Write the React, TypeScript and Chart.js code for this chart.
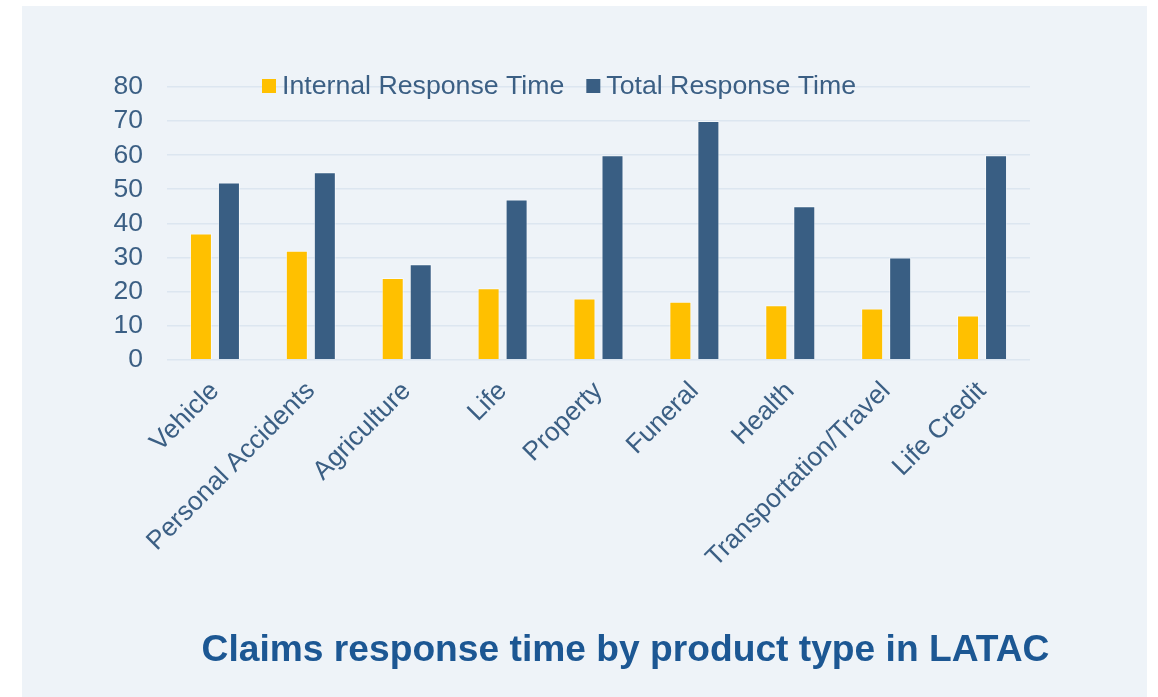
import { useEffect, useRef } from "react";
import { Chart, registerables } from "chart.js";

Chart.register(...registerables);

// Product categories and response times (days)
const categories = [
  "Vehicle",
  "Personal Accidents",
  "Agriculture",
  "Life",
  "Property",
  "Funeral",
  "Health",
  "Transportation/Travel",
  "Life Credit",
];
const internalResponse = [37, 32, 24, 21, 18, 17, 16, 15, 13];
const totalResponse = [52, 55, 28, 47, 60, 70, 45, 30, 60];
const seriesLabels = ["Internal Response Time", "Total Response Time"];
const yTickValues = [0, 10, 20, 30, 40, 50, 60, 70, 80];
const chartTitle = "Claims response time by product type in LATAC";

const FONT = "'Liberation Sans', Arial, Helvetica, sans-serif";
const TEXT_COLOR = "#3B5F84";
const TITLE_COLOR = "#1C5793";
const YELLOW = "#FFC000";
const BLUE = "#395E83";
const GRID = "#DCE6F0";
const PANEL = "#EEF3F8";

// Legend drawn on top of the plot, on the same row as the top gridline
const inlineLegend = {
  id: "inlineLegend",
  afterDraw(chart: any) {
    const { ctx } = chart;
    const x0 = 240;
    const y = 80;
    ctx.save();
    ctx.font = `26.7px ${FONT}`;
    ctx.textBaseline = "middle";
    ctx.textAlign = "left";
    let x = x0;
    chart.data.datasets.forEach((ds: any) => {
      ctx.fillStyle = ds.backgroundColor;
      ctx.fillRect(x, y - 7, 14, 14);
      x += 20;
      ctx.fillStyle = TEXT_COLOR;
      ctx.fillText(ds.label, x, y + 1);
      x += ctx.measureText(ds.label).width + 22;
    });
    ctx.restore();
  },
};

export default function App() {
  const canvasRef = useRef<HTMLCanvasElement | null>(null);

  useEffect(() => {
    document.body.style.margin = "0";
    const canvas = canvasRef.current;
    if (!canvas) return;
    const chart = new Chart(canvas, {
      type: "bar",
      data: {
        labels: categories,
        datasets: [
          {
            label: seriesLabels[0],
            data: internalResponse,
            backgroundColor: YELLOW,
            borderColor: "rgba(255,255,255,0.55)",
            borderWidth: 1,
            categoryPercentage: 0.584,
            barPercentage: 0.786,
          },
          {
            label: seriesLabels[1],
            data: totalResponse,
            backgroundColor: BLUE,
            borderColor: "rgba(255,255,255,0.55)",
            borderWidth: 1,
            categoryPercentage: 0.584,
            barPercentage: 0.786,
          },
        ],
      },
      options: {
        responsive: false,
        animation: false,
        devicePixelRatio: 1,
        layout: {
          padding: { left: 82, right: 0, top: 81, bottom: 24 },
        },
        plugins: {
          legend: { display: false },
          tooltip: { enabled: false },
          title: {
            display: true,
            text: chartTitle,
            position: "bottom",
            color: TITLE_COLOR,
            font: { family: FONT, size: 37.2, weight: "bold", lineHeight: 1.2 },
            padding: { top: 0, bottom: 0 },
          },
        },
        scales: {
          x: {
            grid: { display: false, drawTicks: false },
            border: { display: false },
            ticks: {
              color: TEXT_COLOR,
              font: { family: FONT, size: 26.3 },
              minRotation: 45,
              maxRotation: 45,
              autoSkip: false,
              padding: 16,
            },
            afterFit(scale: any) {
              scale.height = 268.6;
              scale.paddingLeft = 0;
              scale.paddingRight = 117;
            },
          },
          y: {
            min: 0,
            max: 80,
            afterBuildTicks(scale: any) {
              scale.ticks = yTickValues.map((v) => ({ value: v }));
            },
            grid: { color: GRID, lineWidth: 1.6, drawTicks: false },
            border: { display: false },
            ticks: {
              color: TEXT_COLOR,
              font: { family: FONT, size: 26.5 },
              padding: 24,
              autoSkip: false,
            },
            afterFit(scale: any) {
              scale.width = 63;
            },
          },
        },
      },
      plugins: [inlineLegend],
    });
    return () => chart.destroy();
  }, []);

  return (
    <div
      style={{
        position: "absolute",
        left: 0,
        top: 0,
        width: 1158,
        height: 697,
        background: "#ffffff",
        overflow: "hidden",
      }}
    >
      <div
        style={{
          position: "absolute",
          left: 22,
          top: 6,
          width: 1125,
          height: 691,
          background: PANEL,
        }}
      >
        <canvas
          ref={canvasRef}
          width={1125}
          height={691}
          style={{ display: "block", width: 1125, height: 691 }}
        />
      </div>
    </div>
  );
}
